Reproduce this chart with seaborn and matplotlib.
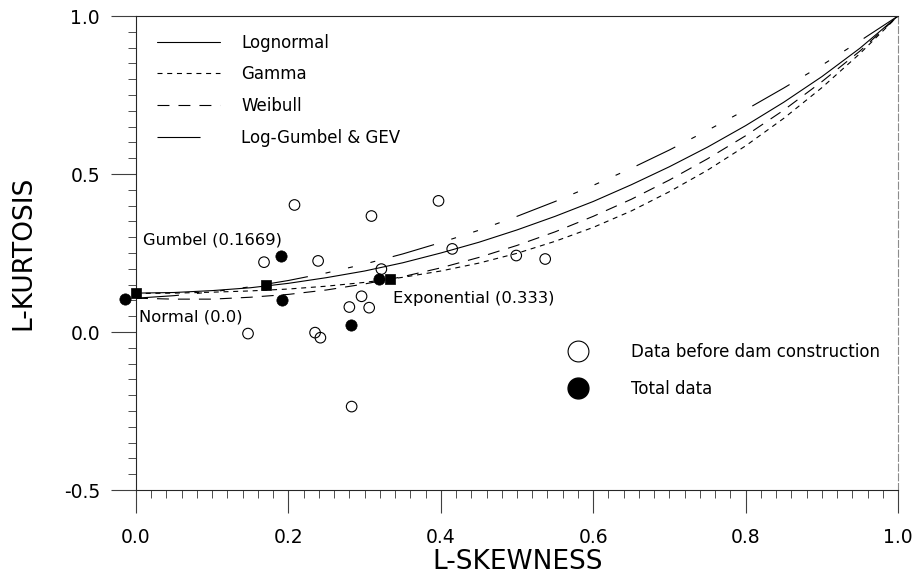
import matplotlib
matplotlib.use("Agg")
import matplotlib.pyplot as plt
import seaborn as sns
import pandas as pd
from matplotlib.lines import Line2D
from matplotlib.ticker import MultipleLocator

# ---------------- data ----------------
tau3 = [0.00, 0.05, 0.10, 0.15, 0.20, 0.25, 0.30, 0.35, 0.40, 0.45, 0.50,
        0.55, 0.60, 0.65, 0.70, 0.75, 0.80, 0.85, 0.90, 0.95, 1.00]
lognormal_t4 = [0.123, 0.125, 0.131, 0.140, 0.154, 0.172, 0.193, 0.219, 0.250, 0.284, 0.323,
                0.366, 0.413, 0.466, 0.523, 0.585, 0.653, 0.727, 0.808, 0.898, 1.000]
gamma_t4 = [0.122, 0.123, 0.126, 0.130, 0.136, 0.145, 0.157, 0.173, 0.193, 0.218, 0.249,
            0.287, 0.331, 0.383, 0.444, 0.512, 0.589, 0.676, 0.773, 0.881, 1.000]
weibull_t4 = [0.107, 0.104, 0.104, 0.110, 0.119, 0.133, 0.152, 0.175, 0.203, 0.236, 0.274,
              0.317, 0.366, 0.420, 0.481, 0.548, 0.621, 0.702, 0.792, 0.889, 1.000]
gev_t4 = [0.107, 0.115, 0.127, 0.143, 0.163, 0.187, 0.215, 0.247, 0.283, 0.322, 0.366,
          0.413, 0.464, 0.518, 0.576, 0.638, 0.703, 0.772, 0.844, 0.921, 1.000]

before_skew = [0.208, 0.397, 0.309, 0.168, 0.239, 0.415, 0.322, 0.499, 0.537, 0.296,
               0.280, 0.306, 0.147, 0.235, 0.242, 0.283]
before_kurt = [0.402, 0.415, 0.367, 0.221, 0.225, 0.263, 0.199, 0.242, 0.231, 0.113,
               0.079, 0.077, -0.005, -0.002, -0.018, -0.236]

total_skew = [-0.014, 0.190, 0.192, 0.282, 0.319]
total_kurt = [0.105, 0.239, 0.101, 0.022, 0.167]

dist_names = ["Normal (0.0)", "Gumbel (0.1669)", "Exponential (0.333)"]
dist_skew = [0.0, 0.170, 0.333]
dist_kurt = [0.122, 0.150, 0.167]

curve_names = ["Lognormal", "Gamma", "Weibull", "Log-Gumbel & GEV"]
legend_names = ["Data before dam construction", "Total data"]

x_ticks = [0.0, 0.2, 0.4, 0.6, 0.8, 1.0]
y_ticks = [-0.5, 0.0, 0.5, 1.0]

# ---------------- style ----------------
sns.set_style("ticks")
plt.rcParams["font.family"] = ["DejaVu Sans"]
plt.rcParams["lines.scale_dashes"] = False
plt.rcParams["text.color"] = "black"
plt.rcParams["axes.labelcolor"] = "black"
plt.rcParams["xtick.labelcolor"] = "black"
plt.rcParams["ytick.labelcolor"] = "black"

fig = plt.figure(figsize=(9.17, 5.77), dpi=100)
ax = fig.add_axes([136 / 917, 1 - 490 / 577, 762 / 917, 474 / 577])

styles = {
    "Lognormal": "-",
    "Gamma": (0, (3.6, 3.4)),
    "Weibull": (0, (8.6, 6.5)),
    "Log-Gumbel & GEV": (0, (31, 13, 3.6, 13, 3.6, 13, 3.6, 13)),
}
legend_styles = dict(styles)
legend_styles["Log-Gumbel & GEV"] = (0, (31, 200))
series = {
    "Lognormal": lognormal_t4,
    "Gamma": gamma_t4,
    "Weibull": weibull_t4,
    "Log-Gumbel & GEV": gev_t4,
}
lw = 0.8
for name in curve_names:
    df = pd.DataFrame({"tau3": tau3, "tau4": series[name]})
    sns.lineplot(data=df, x="tau3", y="tau4", ax=ax, color="black",
                 linewidth=lw, linestyle=styles[name], estimator=None, sort=False)

# data points
df_b = pd.DataFrame({"s": before_skew, "k": before_kurt})
sns.scatterplot(data=df_b, x="s", y="k", ax=ax, marker="o", s=58,
                facecolor="none", edgecolor="black", linewidth=0.8, zorder=4)
df_t = pd.DataFrame({"s": total_skew, "k": total_kurt})
sns.scatterplot(data=df_t, x="s", y="k", ax=ax, marker="o", s=66,
                color="black", edgecolor="black", linewidth=0.5, zorder=5, clip_on=False)
df_d = pd.DataFrame({"s": dist_skew, "k": dist_kurt})
sns.scatterplot(data=df_d, x="s", y="k", ax=ax, marker="s", s=46,
                color="black", edgecolor="black", linewidth=0.5, zorder=5, clip_on=False)

# annotations
label_pos = {
    "Normal (0.0)": (0.004, 0.047),
    "Gumbel (0.1669)": (0.009, 0.292),
    "Exponential (0.333)": (0.337, 0.107),
}
for name in dist_names:
    x, y = label_pos[name]
    ax.text(x, y, name, fontsize=11.8, ha="left", va="center", color="black")

# axes
ax.set_xlim(0, 1)
ax.set_ylim(-0.5, 1.0)
ax.set_xticks(x_ticks)
ax.set_xticklabels([f"{v:.1f}" for v in x_ticks])
ax.set_yticks(y_ticks)
ax.set_yticklabels([f"{v:.1f}" for v in y_ticks])
ax.xaxis.set_minor_locator(MultipleLocator(0.02))
ax.yaxis.set_minor_locator(MultipleLocator(0.05))
ax.tick_params(axis="y", which="major", length=18, width=0.8, pad=8,
               labelsize=13.5, color="0.25", direction="out")
ax.tick_params(axis="y", which="minor", length=6, width=0.7, color="0.3", direction="out")
ax.tick_params(axis="x", which="major", length=16.5, width=0.8, pad=11,
               labelsize=13.5, color="0.25", direction="out")
ax.tick_params(axis="x", which="minor", length=6, width=0.7, color="0.3", direction="out")

ax.set_xlabel("L-SKEWNESS", fontsize=19, color="black")
ax.set_ylabel("L-KURTOSIS", fontsize=19, color="black")
ax.xaxis.set_label_coords(0.501, -0.152)
ax.xaxis.label.set_va("center")
ax.yaxis.set_label_coords((23 - 136) / 762, 0.5)
ax.yaxis.label.set_va("center")

for side in ["left", "bottom", "top"]:
    ax.spines[side].set_linewidth(0.8)
    ax.spines[side].set_color("0.15")
ax.spines["right"].set_linewidth(0.8)
ax.spines["right"].set_color("0.55")
ax.spines["right"].set_linestyle((0, (5, 2)))

# legends
line_handles = [Line2D([], [], color="black", linewidth=lw, linestyle=legend_styles[n])
                for n in curve_names]
leg1 = ax.legend(line_handles, curve_names, loc="upper left",
                 bbox_to_anchor=(0.0276, 0.963), frameon=False, fontsize=12,
                 handlelength=3.78, handletextpad=1.26, labelspacing=0.82,
                 borderpad=0, borderaxespad=0, labelcolor="black")
ax.add_artist(leg1)

marker_handles = [
    Line2D([], [], linestyle="none", marker="o", markersize=15,
           markerfacecolor="white", markeredgecolor="black", markeredgewidth=0.8),
    Line2D([], [], linestyle="none", marker="o", markersize=15,
           markerfacecolor="black", markeredgecolor="black"),
]
leg2 = ax.legend(marker_handles, legend_names, loc="upper left",
                 bbox_to_anchor=(0.569, 0.3095), frameon=False, fontsize=12,
                 handlelength=1.0, handletextpad=2.68, labelspacing=1.12,
                 borderpad=0, borderaxespad=0, labelcolor="black")

fig.savefig("out.png", dpi=100)
